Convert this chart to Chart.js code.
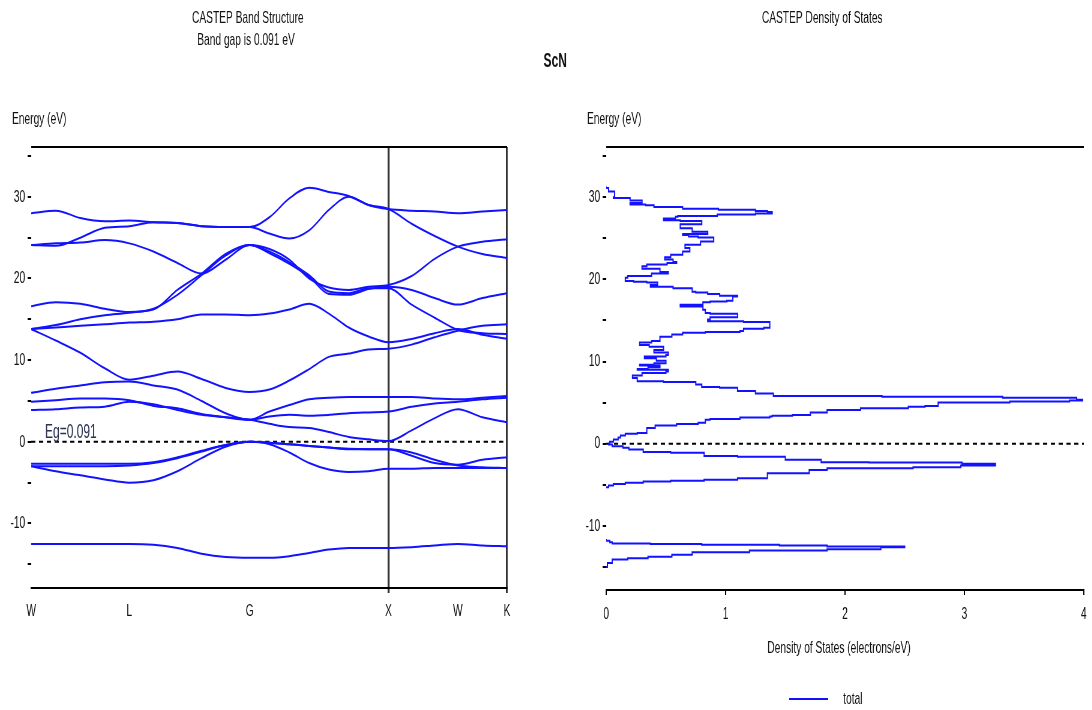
<!DOCTYPE html>
<html>
<head>
<meta charset="utf-8">
<title>ScN</title>
<script src="https://cdn.jsdelivr.net/npm/chart.js@4.4.1/dist/chart.umd.min.js"></script>
<style>
  html, body { margin: 0; padding: 0; background: #fff; }
  #wrap { position: relative; width: 1092px; height: 710px; overflow: hidden; }
  /* both panels are drawn wide and squeezed horizontally */
  #wrap canvas { position: absolute; top: 0; transform: scaleX(0.6); transform-origin: 0 0; }
  #bandChart { left: 0; }
  #dosChart { left: 530px; }
</style>
</head>
<body>
<div id="wrap">
  <canvas id="bandChart" width="910" height="710"></canvas>
  <canvas id="dosChart" width="937" height="710"></canvas>
</div>
<script>
// k-path W-L-G-X-W-K (units of 2pi/a)
const kTicks = [0, 0.707, 1.573, 2.573, 3.073, 3.427];
const kLabels = ['W', 'L', 'G', 'X', 'W', 'K'];
const kGrid = [0, 0.177, 0.354, 0.530, 0.707, 0.880, 1.053, 1.227, 1.400, 1.573,
               1.716, 1.859, 2.002, 2.144, 2.287, 2.430, 2.573, 2.740, 2.906, 3.073,
               3.250, 3.427];

const bandGap = 0.091;

// band energies (eV) on kGrid, Fermi level at 0
const bandN2s = [-12.5, -12.5, -12.5, -12.5, -12.5, -12.6, -13.0, -13.7, -14.1, -14.2, -14.2, -14.0, -13.6, -13.2, -13.0, -13.0, -13.0, -12.9, -12.7, -12.5, -12.7, -12.8];
const bandV3 = [-3.0, -3.6, -4.1, -4.6, -5.0, -4.7, -3.6, -2.0, -0.6, 0.0, -0.3, -1.3, -2.6, -3.4, -3.7, -3.6, -3.3, -3.3, -3.2, -3.2, -3.2, -3.2];
const bandV2 = [-3.0, -3.0, -3.0, -3.0, -2.9, -2.6, -2.0, -1.2, -0.4, 0.0, -0.1, -0.3, -0.5, -0.7, -0.9, -0.9, -0.9, -1.7, -2.6, -2.8, -2.2, -1.9];
const bandV1 = [-2.7, -2.7, -2.7, -2.7, -2.7, -2.5, -1.9, -1.1, -0.4, 0.0, -0.1, -0.3, -0.5, -0.7, -0.85, -0.9, -0.9, -1.3, -2.2, -2.9, -3.1, -3.2];
const bandC1 = [3.9, 4.0, 4.2, 4.3, 4.9, 4.6, 3.9, 3.3, 3.0, 2.7, 2.2, 1.8, 1.7, 1.2, 0.6, 0.3, 0.091, 1.4, 2.9, 4.0, 3.0, 2.4];
const bandC2 = [4.9, 5.1, 5.3, 5.3, 5.1, 4.4, 4.1, 3.4, 3.0, 2.7, 3.1, 3.3, 3.2, 3.3, 3.5, 3.6, 3.7, 4.3, 4.7, 4.9, 5.2, 5.4];
const bandC3 = [6.0, 6.5, 6.9, 7.3, 7.4, 6.9, 6.4, 5.0, 3.5, 2.7, 3.7, 4.5, 5.2, 5.4, 5.5, 5.5, 5.5, 5.5, 5.3, 5.2, 5.4, 5.6];
const bandA = [13.8, 12.4, 10.9, 9.0, 7.6, 8.1, 8.6, 7.7, 6.6, 6.1, 6.4, 7.5, 8.9, 10.4, 10.8, 11.3, 11.4, 11.9, 12.8, 13.6, 14.2, 14.4];
const bandT2 = [13.8, 14.0, 14.2, 14.4, 14.6, 14.7, 15.0, 15.6, 15.6, 15.5, 15.7, 16.2, 16.9, 15.7, 14.0, 12.9, 12.2, 12.6, 13.3, 13.8, 13.1, 12.6];
const bandT1 = [13.8, 14.3, 15.0, 15.5, 15.8, 16.3, 18.0, 20.4, 22.8, 24.1, 23.3, 22.0, 20.4, 18.4, 18.2, 18.8, 18.8, 16.8, 15.2, 13.7, 13.3, 13.2];
const bandS = [16.6, 17.1, 16.9, 16.3, 15.9, 16.2, 18.6, 20.6, 23.0, 24.1, 23.1, 21.8, 20.2, 18.1, 18.0, 18.7, 19.0, 18.6, 17.6, 16.8, 17.6, 18.2];
const bandQ = [24.1, 24.3, 24.4, 24.7, 24.3, 23.3, 21.9, 20.6, 22.3, 24.1, 23.6, 22.3, 20.0, 18.9, 18.6, 19.0, 19.2, 20.3, 22.4, 23.9, 24.5, 24.8];
const bandQ2 = [24.1, 24.0, 25.0, 26.2, 26.4, 26.9, 26.8, 26.4, 26.3, 26.3, 25.5, 24.9, 25.9, 28.4, 30.0, 29.0, 28.5, 26.7, 25.2, 23.9, 23.0, 22.5];
const bandP = [28.0, 28.3, 27.4, 27.0, 27.1, 26.9, 26.8, 26.4, 26.3, 26.3, 27.5, 29.8, 31.1, 30.6, 30.1, 29.0, 28.5, 28.3, 28.2, 28.0, 28.2, 28.4];

const bands = [bandN2s, bandV3, bandV2, bandV1, bandC1, bandC2, bandC3,
               bandA, bandT2, bandT1, bandS, bandQ, bandQ2, bandP];

// total DOS: energy (eV) and states (electrons/eV); null breaks the curve
const dosEnergy = [
  -15.0, -14.5, -14.1, -13.95, -13.75, -13.5, -13.2, -13.0, -12.85, -12.6, -12.5, -12.4, -12.3, -12.2, -12.15, -12.0, -11.8, -11.6,
  null,
  -5.3, -5.1, -4.9, -4.75, -4.6, -4.5, -4.4, -4.2, -3.6, -3.2, -3.0, -2.85, -2.65, -2.45, -2.3, -2.25, -1.95, -1.6, -1.5, -1.1, -1.0, -0.7, -0.5, -0.3, -0.1,
  0.0, 0.25, 0.5, 0.75, 1.0, 1.2, 1.3, 1.9, 2.2, 2.4, 2.55, 2.9, 3.0, 3.2, 3.3, 3.4, 3.5, 3.8, 4.1, 4.3, 4.5, 4.6, 5.0, 5.15, 5.25, 5.35, 5.6, 5.7, 5.8, 6.1, 6.4, 6.8, 6.9, 7.2, 7.5, 7.6, 8.0,
  8.3, 8.6, 8.8, 9.0, 9.1, 9.3, 9.5, 9.6, 9.8, 10.1, 10.4, 10.6, 10.8, 11.1, 11.4, 11.8, 12.0, 12.3, 12.5, 13.0, 13.3, 13.5,
  13.6, 13.7, 14.0, 14.1, 14.5, 14.8, 14.9, 15.1, 15.4, 15.6, 15.8, 15.9, 16.3, 16.7, 16.9, 17.2, 17.3, 17.4, 17.9, 18.0,
  18.2, 18.4, 18.5, 18.9, 19.1, 19.3, 19.6, 19.7, 19.8, 20.2, 20.4, 20.7, 20.9, 21.3, 21.6, 21.8, 22.0, 22.1, 22.4, 22.7,
  23.0, 23.4, 23.8, 24.2, 24.6, 25.1, 25.2, 25.4, 25.5, 25.8, 26.2, 26.7, 27.1, 27.2, 27.4, 27.6, 27.7, 27.9, 28.0, 28.2,
  28.3, 28.45, 28.6, 28.8, 29.0, 29.1, 29.3, 29.6, 29.9, 30.0, 30.5, 30.7, 31.1, 31.3
];
const dosTotal = [
  0.00, 0.01, 0.05, 0.18, 0.35, 0.55, 0.72, 1.20, 1.85, 2.30, 2.50, 1.85, 1.45, 0.80, 0.37, 0.05, 0.03, 0.00,
  null,
  0.00, 0.02, 0.06, 0.16, 0.31, 0.54, 0.82, 1.10, 1.35, 1.70, 1.85, 2.57, 2.97, 3.26, 2.98, 2.20, 1.80, 1.50, 1.10, 0.82, 0.54, 0.31, 0.19, 0.14, 0.05,
  0.02, 0.03, 0.06, 0.10, 0.12, 0.16, 0.26, 0.34, 0.41, 0.59, 0.77, 0.83, 0.87, 1.12, 1.37, 1.39, 1.56, 1.71, 1.85, 2.13, 2.53, 2.67, 2.78, 3.38, 3.88, 3.99, 3.94, 3.32, 2.31, 1.40, 1.25, 1.10, 0.95, 0.80, 0.75, 0.48, 0.26,
  0.22, 0.30, 0.50, 0.52, 0.26, 0.35, 0.45, 0.28, 0.40, 0.50, 0.42, 0.32, 0.50, 0.52, 0.40, 0.48, 0.36, 0.28, 0.38, 0.45, 0.55, 0.64,
  0.83, 1.12, 1.15, 1.32, 1.37, 1.37, 1.15, 0.85, 0.87, 1.10, 1.10, 0.87, 0.83, 0.81, 0.62, 0.81, 0.87, 1.01, 1.06, 1.10,
  0.95, 0.85, 0.75, 0.72, 0.56, 0.37, 0.43, 0.34, 0.23, 0.16, 0.18, 0.38, 0.52, 0.45, 0.30, 0.34, 0.51, 0.59, 0.56, 0.49,
  0.54, 0.64, 0.70, 0.66, 0.79, 0.90, 0.77, 0.69, 0.64, 0.85, 0.72, 0.62, 0.80, 0.62, 0.48, 0.58, 0.60, 0.93, 1.25, 1.39,
  1.35, 1.25, 0.94, 0.64, 0.40, 0.33, 0.20, 0.30, 0.20, 0.06, 0.07, 0.07, 0.02, 0.00
];

const energyTicks = [-15, -10, -5, 0, 5, 10, 15, 20, 25, 30, 35];
const dosTicks = [0, 1, 2, 3, 4];

const FONT = '"Liberation Sans", Arial, sans-serif';
const BLUE = '#1212ff';
Chart.defaults.font.family = FONT;
Chart.defaults.font.size = 17;
Chart.defaults.color = '#111';

// top frame line + free text (titles, axis names, legend)
const panelText = {
  id: 'panelText',
  afterDraw(chart, args, opts) {
    const ctx = chart.ctx;
    const area = chart.chartArea;
    ctx.save();
    ctx.strokeStyle = '#000';
    ctx.lineWidth = 2;
    ctx.beginPath();
    ctx.moveTo(area.left, area.top);
    ctx.lineTo(area.right, area.top);
    ctx.stroke();
    (opts.items || []).forEach(t => {
      let x = t.x, y = t.y;
      if (t.xValue !== undefined) x = chart.scales.x.getPixelForValue(t.xValue) + (t.dx || 0);
      if (t.yValue !== undefined) y = chart.scales.y.getPixelForValue(t.yValue) + (t.dy || 0);
      if (t.sample) {
        ctx.strokeStyle = t.color;
        ctx.lineWidth = 2;
        ctx.beginPath();
        ctx.moveTo(x, y);
        ctx.lineTo(x + t.sample, y);
        ctx.stroke();
        return;
      }
      ctx.font = t.font || '17px ' + FONT;
      ctx.fillStyle = t.color || '#111';
      ctx.textAlign = t.align || 'left';
      ctx.textBaseline = t.baseline || 'middle';
      ctx.fillText(t.text, x, y);
    });
    ctx.restore();
  }
};

function energyAxis(width, min, max) {
  return {
    type: 'linear',
    min: min,
    max: max,
    afterBuildTicks: s => { s.ticks = energyTicks.map(v => ({ value: v })); },
    afterFit: s => { s.width = width; },
    ticks: { padding: 4, callback: v => (v % 10 === 0 ? String(v) : '') },
    grid: { drawOnChartArea: false, drawTicks: true, tickLength: 6, color: '#000', lineWidth: 2 },
    border: { display: false }
  };
}

function fermiLine(x0, x1) {
  return {
    data: [{ x: x0, y: 0 }, { x: x1, y: 0 }],
    showLine: true,
    borderColor: '#000',
    borderWidth: 2,
    borderDash: [7, 6],
    pointRadius: 0
  };
}

// band structure
const bandSets = bands.map(b => ({
  data: b.map((e, i) => ({ x: kGrid[i], y: e })),
  showLine: true,
  borderColor: BLUE,
  borderWidth: 2,
  pointRadius: 0,
  cubicInterpolationMode: 'monotone'
}));
bandSets.push(fermiLine(kTicks[0], kTicks[kTicks.length - 1]));

new Chart(document.getElementById('bandChart'), {
  type: 'scatter',
  data: { datasets: bandSets },
  options: {
    responsive: false,
    animation: false,
    devicePixelRatio: 1,
    layout: { padding: { top: 147, right: 65, bottom: 0, left: 0 } },
    plugins: {
      legend: { display: false },
      tooltip: { enabled: false },
      panelText: {
        items: [
          { text: 'CASTEP Band Structure', x: 413, y: 18, align: 'center' },
          { text: 'Band gap is ' + bandGap + ' eV', x: 410, y: 40, align: 'center' },
          { text: 'Energy (eV)', x: 20, y: 119 },
          { text: 'Eg=' + bandGap, xValue: kTicks[0], dx: 23, yValue: 0, dy: -4,
            baseline: 'alphabetic', font: '20px ' + FONT, color: '#2b3350' }
        ]
      }
    },
    scales: {
      x: {
        type: 'linear',
        min: kTicks[0],
        max: kTicks[kTicks.length - 1],
        afterBuildTicks: s => { s.ticks = kTicks.map(v => ({ value: v })); },
        afterFit: s => { s.height = 122; },
        ticks: { autoSkip: false, maxRotation: 0, padding: 8, callback: (v, i) => kLabels[i] },
        grid: {
          drawOnChartArea: true,
          drawTicks: true,
          tickLength: 5,
          lineWidth: 3.3,
          color: c => (c.index === 3 || c.index === 5 ? '#333' : 'rgba(0,0,0,0)')
        },
        border: { display: true, color: '#000', width: 2 }
      },
      y: energyAxis(52, -17.9, 36.1)
    }
  },
  plugins: [panelText]
});

// density of states, drawn as a staircase along the energy axis
const dosPoints = dosEnergy.map((e, i) => ({ x: dosTotal[i], y: e }));

new Chart(document.getElementById('dosChart'), {
  type: 'scatter',
  data: {
    datasets: [
      { label: 'total', data: dosPoints, showLine: true, stepped: 'before', borderColor: BLUE, borderWidth: 2, pointRadius: 0, spanGaps: false },
      fermiLine(dosTicks[0], dosTicks[dosTicks.length - 1])
    ]
  },
  options: {
    responsive: false,
    animation: false,
    devicePixelRatio: 1,
    layout: { padding: { top: 147, right: 14, bottom: 0, left: 0 } },
    plugins: {
      legend: { display: false },
      tooltip: { enabled: false },
      panelText: {
        items: [
          { text: 'CASTEP Density of States', x: 487, y: 18, align: 'center' },
          { text: 'ScN', x: 42, y: 61, align: 'center', font: 'bold 20px ' + FONT },
          { text: 'Energy (eV)', x: 95, y: 119 },
          { text: 'Density of States (electrons/eV)', x: 515, y: 648, align: 'center' },
          { sample: 65, x: 432, y: 699, color: BLUE },
          { text: 'total', x: 522, y: 699 }
        ]
      }
    },
    scales: {
      x: {
        type: 'linear',
        min: dosTicks[0],
        max: dosTicks[dosTicks.length - 1],
        afterBuildTicks: s => { s.ticks = dosTicks.map(v => ({ value: v })); },
        afterFit: s => { s.height = 120; },
        ticks: { padding: 9, callback: v => String(v) },
        grid: { drawOnChartArea: false, drawTicks: true, tickLength: 5, color: '#000', lineWidth: 2 },
        border: { display: true, color: '#000', width: 2 }
      },
      y: energyAxis(127, -17.8, 36.1)
    }
  },
  plugins: [panelText]
});
</script>
</body>
</html>
